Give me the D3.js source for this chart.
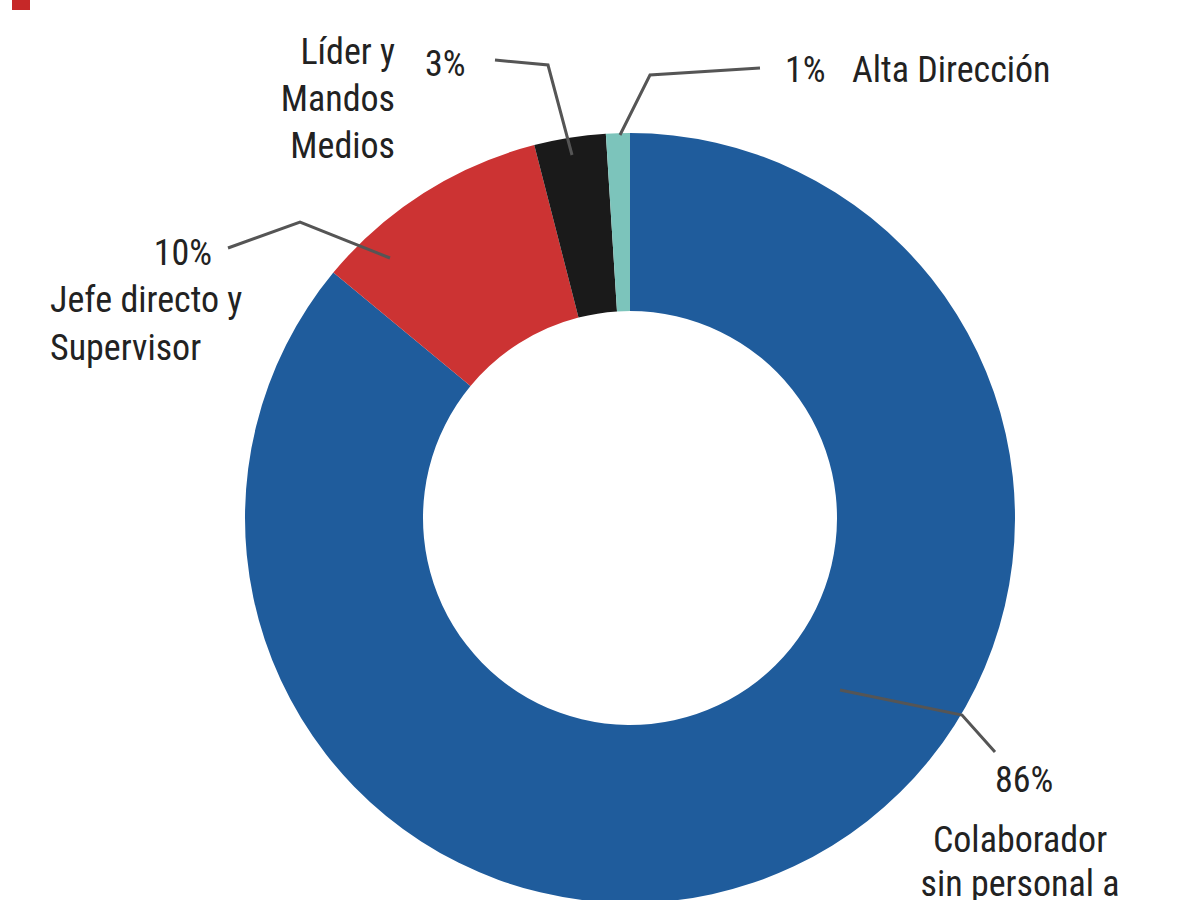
<!DOCTYPE html>
<html><head><meta charset="utf-8">
<script src="https://cdn.jsdelivr.net/npm/d3@7"></script>
<style>body{margin:0;background:#fff}svg text{font-family:"Liberation Sans Narrow","Roboto Condensed","DejaVu Sans Condensed",sans-serif;font-stretch:condensed;fill:#222}</style>
</head><body><svg id="c" width="1200" height="900"></svg>
<script>
const categories = ["Colaborador sin personal a cargo","Jefe directo y Supervisor","Líder y Mandos Medios","Alta Dirección"];
const values = [86, 10, 3, 1];
const colors = ["#1f5c9c","#cc3333","#1a1a1a","#7cc4bb"];
const pctLabels = ["86%","10%","3%","1%"];

const svg = d3.select("#c");
svg.append("rect").attr("x",12).attr("y",-5).attr("width",18).attr("height",15).attr("fill","#c62828");

const cx=630, cy=518;
const pie = d3.pie().sort(null).value(d=>d)(values);
const arc = d3.arc().innerRadius(207).outerRadius(385);
const g = svg.append("g").attr("transform",`translate(${cx},${cy})`);
g.selectAll("path").data(pie).join("path").attr("d",arc).attr("fill",(d,i)=>colors[i]);

const lines = [
 [[840,690],[962,715],[995,752]],
 [[390,258],[300,222],[228,248]],
 [[572,155],[548,65],[495,60]],
 [[620,135],[650,75],[760,68]]
];
svg.selectAll("polyline").data(lines).join("polyline")
 .attr("points",d=>d.map(p=>p.join(",")).join(" "))
 .attr("fill","none").attr("stroke","#555").attr("stroke-width",3);

const fs=36;
function t(x,y,s,anchor){svg.append("text").attr("x",x).attr("y",y).attr("text-anchor",anchor||"start").attr("font-size",fs).text(s);}
t(785,82,pctLabels[3]); t(852,82,categories[3]);
t(425,76,pctLabels[2]);
t(395,64,"Líder y","end"); t(395,111,"Mandos","end"); t(395,158,"Medios","end");
t(212,265,pctLabels[1],"end");
t(50,312,"Jefe directo y"); t(50,360,"Supervisor");
t(995,792,pctLabels[0]);
t(1020,852,"Colaborador","middle"); t(1020,896,"sin personal a","middle");
</script></body></html>
